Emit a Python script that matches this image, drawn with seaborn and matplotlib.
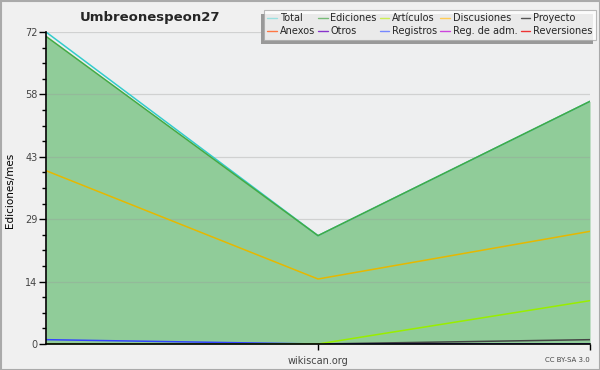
import matplotlib
matplotlib.use("Agg")
import matplotlib.pyplot as plt
import seaborn as sns
import pandas as pd
import numpy as np
from matplotlib.patches import Rectangle
from matplotlib.ticker import FixedLocator, MultipleLocator

sns.set_theme(style="white")
plt.rcParams['font.family'] = ['DejaVu Sans']

title = "Umbreonespeon27"
x_pos = [0, 1, 2]
series_names = ["Total", "Ediciones", "Artículos", "Discusiones", "Proyecto",
                "Anexos", "Otros", "Registros", "Reg. de adm.", "Reversiones"]
total = [72, 25, 56]
ediciones = [71, 25, 56]
articulos = [0, 0, 10]
discusiones = [40, 15, 26]
proyecto = [0, 0, 1]
anexos = [0, 0, 0]
otros = [0, 0, 0]
registros = [1, 0, 0]
reg_adm = [0, 0, 0]
reversiones = [0, 0, 0]
values = [total, ediciones, articulos, discusiones, proyecto,
          anexos, otros, registros, reg_adm, reversiones]
line_colors = ["#33cccc", "#44aa44", "#99ee00", "#e6b800", "#444444",
               "#ff7744", "#8833cc", "#3344ff", "#cc44dd", "#ee3333"]
legend_colors = ["#99e0e0", "#77bb77", "#ccee55", "#ffcc55", "#555555",
                 "#ff7744", "#8833cc", "#7788ff", "#cc44dd", "#ee3333"]
yticks = [0, 14.4, 28.8, 43.2, 57.6, 72]
ytick_labels = ["0", "14", "29", "43", "58", "72"]

rows = []
for name, vals in zip(series_names, values):
    for xv, v in zip(x_pos, vals):
        rows.append({"x": xv, "value": v, "serie": name})
df = pd.DataFrame(rows)

fig = plt.figure(figsize=(6, 3.7), dpi=100, facecolor="#f0f0f0")
ax = fig.add_axes([46/600, 26/370, 544/600, 312/370])
ax.set_facecolor("#eeeff0")

# fill under Ediciones
ax.fill_between(x_pos, ediciones, 0, color="#90cc99", zorder=1, lw=0)

# gridlines
for t in yticks[1:]:
    ax.axhline(t, color="#999999", alpha=0.35, lw=0.9, zorder=2)

draw_order = ["Anexos", "Otros", "Reg. de adm.", "Reversiones", "Proyecto",
              "Registros", "Artículos", "Discusiones", "Total", "Ediciones"]
palette = dict(zip(series_names, line_colors))
sns.lineplot(data=df, x="x", y="value", hue="serie", hue_order=draw_order,
             palette=palette, ax=ax, legend=False, lw=1.1, zorder=3)
for l in ax.get_lines():
    if l.get_linestyle() != "None":
        l.set_zorder(3)

ax.set_xlim(0, 2)
ax.set_ylim(0, 72)
ax.yaxis.set_major_locator(FixedLocator(yticks))
ax.set_yticklabels(ytick_labels, fontsize=7, color="#444444")
ax.yaxis.set_minor_locator(MultipleLocator(3.6))
ax.set_xticks([1])
ax.set_xticklabels(["wikiscan.org"], fontsize=7, color="#444444")
ax.xaxis.set_minor_locator(FixedLocator([2]))
ax.tick_params(axis="y", which="major", length=5, width=1, color="black", direction="out", pad=1, left=True)
ax.tick_params(axis="y", which="minor", length=3, width=1, color="black", direction="out", left=True)
ax.tick_params(axis="x", which="both", length=4, width=1, color="black", direction="out", pad=5, bottom=True)
for s in ["top", "right"]:
    ax.spines[s].set_visible(False)
for s in ["left", "bottom"]:
    ax.spines[s].set_color("black")
    ax.spines[s].set_linewidth(1.2)
    ax.spines[s].set_zorder(4)
ax.set_xlabel("")
ax.set_ylabel("")
fig.text(10/600, 1 - 190/370, "Ediciones/mes", fontsize=7.5, rotation=90,
         ha="center", va="center", color="black")

fig.text(150/600, 1 - 18/370, title, fontsize=9.5, fontweight="bold",
         ha="center", va="center")
fig.text(590/600, 1 - 360/370, "CC BY-SA 3.0", fontsize=5, color="#444444",
         ha="right", va="center")

# legend
order_idx = [0, 5, 1, 6, 2, 7, 3, 8, 4, 9]
handles = [plt.Line2D([], [], color=legend_colors[i], lw=1) for i in order_idx]
labels = [series_names[i] for i in order_idx]
leg = fig.legend(handles, labels, ncol=5, loc="upper right",
                 bbox_to_anchor=(596/600, 1 - 10/370), fontsize=7,
                 frameon=True, fancybox=False, shadow=False,
                 handlelength=1.0, handletextpad=0.3, columnspacing=0.3,
                 labelspacing=0.3, borderpad=0.35, borderaxespad=0)
leg.get_frame().set_facecolor("white")
leg.get_frame().set_edgecolor("#aaaaaa")
leg.get_frame().set_linewidth(0.8)
leg.set_zorder(10)

fig.canvas.draw()
bb = leg.get_window_extent()
sh = Rectangle((bb.x0 - 3, bb.y0 - 4), bb.width, bb.height,
               transform=None, facecolor="#999999", edgecolor="none", zorder=9)
fig.patches.append(sh)

fig.patches.append(Rectangle((0.5/600, 0.5/370), 599/600, 369/370,
                             transform=fig.transFigure, fill=False,
                             edgecolor="#aaaaaa", lw=1.5, zorder=20))

fig.savefig("out.png", dpi=100, facecolor=fig.get_facecolor())
